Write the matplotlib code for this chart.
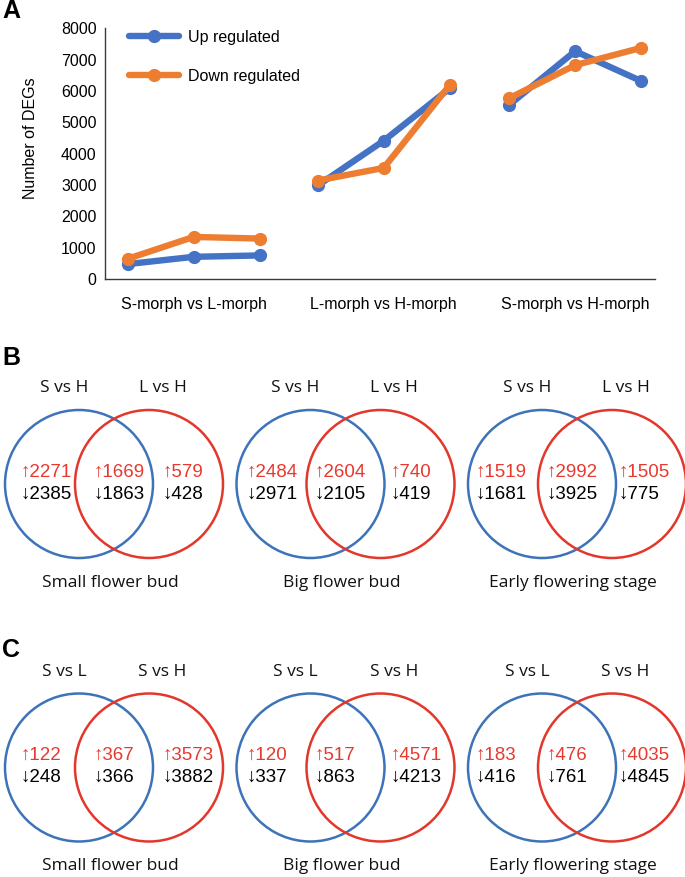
import matplotlib
matplotlib.use("Agg")
import matplotlib.pyplot as plt
from matplotlib.patches import Circle

# ── Data ──────────────────────────────────────────────────────────────────────
comparisons   = ["S-morph vs L-morph", "L-morph vs H-morph", "S-morph vs H-morph"]
up_regulated   = [[476, 708, 752], [2984, 4413, 6085], [5555, 7270, 6317]]
down_regulated = [[645, 1343, 1291], [3143, 3545, 6190], [5768, 6825, 7375]]
y_ticks = [0, 1000, 2000, 3000, 4000, 5000, 6000, 7000, 8000]

stages   = ["Small flower bud", "Big flower bud", "Early flowering stage"]
titles_B = ["S vs H", "L vs H"]
titles_C = ["S vs L", "S vs H"]
# per stage: (left only, overlap, right only)
B_up   = [[2271, 1669, 579], [2484, 2604, 740], [1519, 2992, 1505]]
B_down = [[2385, 1863, 428], [2971, 2105, 419], [1681, 3925, 775]]
C_up   = [[122, 367, 3573], [120, 517, 4571], [183, 476, 4035]]
C_down = [[248, 366, 3882], [337, 863, 4213], [416, 761, 4845]]

# ── Style ─────────────────────────────────────────────────────────────────────
BLUE_LINE   = "#4472C4"
ORANGE_LINE = "#ED7D31"
VENN_BLUE   = "#3D73B9"
VENN_RED    = "#E3372C"
TEXT_RED    = "#E8392F"
ARIAL = ["Liberation Sans", "DejaVu Sans"]
SEGOE = ["Open Sans", "DejaVu Sans"]

W, H = 685, 877
fig = plt.figure(figsize=(W / 100, H / 100), dpi=100)

# ── Panel A: line chart ───────────────────────────────────────────────────────
ax = fig.add_axes([105 / W, 1 - 279 / H, 550 / W, (279 - 28.3) / H])
group_offsets = [0, 2.88, 5.78]
handles = []
for g, off in enumerate(group_offsets):
    xs = [off + i for i in range(3)]
    lu, = ax.plot(xs, up_regulated[g], color=BLUE_LINE, lw=4.6, marker="o",
                  ms=8.5, solid_capstyle="round", label="Up regulated")
    ld, = ax.plot(xs, down_regulated[g], color=ORANGE_LINE, lw=4.6, marker="o",
                  ms=8.5, solid_capstyle="round", label="Down regulated")
    if g == 0:
        handles = [lu, ld]

ax.set_xlim(-0.344, 7.99)
ax.set_ylim(0, 8000)
ax.set_yticks(y_ticks)
ax.set_yticklabels([str(v) for v in y_ticks], family=ARIAL, fontsize=11.5)
ax.set_xticks([off + 1 for off in group_offsets])
ax.set_xticklabels(comparisons, family=ARIAL, fontsize=11.5)
ax.tick_params(axis="y", length=0, pad=6)
ax.tick_params(axis="x", length=0, pad=13)
for s in ["top", "right"]:
    ax.spines[s].set_visible(False)
for s in ["left", "bottom"]:
    ax.spines[s].set_color("#3a3a3a")
    ax.spines[s].set_linewidth(1.0)
ax.set_ylabel("Number of DEGs", family=ARIAL, fontsize=11.5)
ax.yaxis.set_label_coords(-0.121, 0.562)

ax.legend(handles=handles, loc="upper left", bbox_to_anchor=(0.044, 0.994),
          frameon=False, borderpad=0, borderaxespad=0, handlelength=3.1,
          handletextpad=0.6, labelspacing=1.5, numpoints=1,
          prop={"family": ARIAL, "size": 11.5})

# ── Panels B and C: Venn diagrams ─────────────────────────────────────────────
av = fig.add_axes([0, 0, 1, 1])
av.set_xlim(0, W)
av.set_ylim(H, 0)
av.axis("off")

col_cx = [79, 310.5, 542]
row_cy = [484, 767.5]
R, DX = 74, 70
num_dx = [(-58, 15, 84), (-64, 4.5, 80), (-66, 5, 77)]

rows = [(titles_B, B_up, B_down), (titles_C, C_up, C_down)]
for r, (titles, ups, downs) in enumerate(rows):
    cy = row_cy[r]
    for c, cx in enumerate(col_cx):
        av.add_patch(Circle((cx, cy), R, fill=False, ec=VENN_BLUE, lw=1.8))
        av.add_patch(Circle((cx + DX, cy), R, fill=False, ec=VENN_RED, lw=1.8))
        av.text(cx - 15, cy - 96, titles[0], family=SEGOE, fontsize=12.5,
                ha="center", va="center", color="#111111")
        av.text(cx + DX + 13.5, cy - 96, titles[1], family=SEGOE, fontsize=12.5,
                ha="center", va="center", color="#111111")
        for k in range(3):
            x0 = cx + num_dx[c][k]
            av.text(x0, cy - 12, "\u2191" + str(ups[c][k]), family=ARIAL,
                    fontsize=13.5, ha="left", va="center", color=TEXT_RED)
            av.text(x0, cy + 10, "\u2193" + str(downs[c][k]), family=ARIAL,
                    fontsize=13.5, ha="left", va="center", color="black")
        av.text(cx + 31, cy + 99, stages[c], family=SEGOE, fontsize=12.5,
                ha="center", va="center", color="#111111")

# panel letters
for letter, y in [("A", 11), ("B", 358), ("C", 650)]:
    av.text(2, y, letter, family=ARIAL, fontsize=18, fontweight="bold",
            ha="left", va="center", color="black")

fig.savefig("out.png", dpi=100, facecolor="white")
